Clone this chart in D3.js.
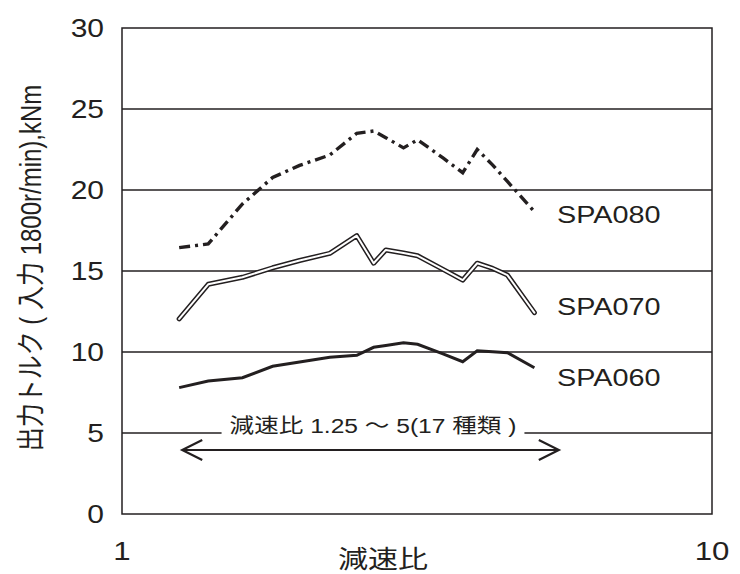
<!DOCTYPE html>
<meta charset="utf-8">
<script src="https://d3js.org/d3.v7.min.js"></script>
<style>
  body { margin: 0; background: #fff; }
  text { font-family: "Liberation Sans", Arial, "Noto Sans CJK JP", sans-serif; fill: #231f20; }
</style>
<div id="page"></div>
<script>

  // Data (reduction ratio -> output torque, kNm)
  var ratios = [1.25, 1.4, 1.6, 1.8, 2.0, 2.25, 2.5, 2.67, 2.8, 3.0, 3.17, 3.5, 3.78, 4.0, 4.25, 4.5, 5.0];
  var spa060 = [7.80, 8.21, 8.41, 9.12, 9.38, 9.67, 9.80, 10.29, 10.40, 10.57, 10.48, 9.89, 9.40, 10.08, 10.02, 9.96, 9.03];
  var spa070 = [12.04, 14.18, 14.61, 15.20, 15.65, 16.09, 17.18, 15.48, 16.30, 16.11, 15.94, 15.10, 14.44, 15.48, 15.16, 14.75, 12.43];
  var spa080 = [16.44, 16.67, 19.14, 20.77, 21.52, 22.16, 23.50, 23.64, 23.23, 22.60, 23.10, 21.98, 21.07, 22.50, 21.54, 20.53, 18.66];
  var seriesNames = ["SPA060", "SPA070", "SPA080"];
  var yTicks = [0, 5, 10, 15, 20, 25, 30];
  var xTicks = [1, 10];
  var rangeLabel = "減速比 1.25 ～ 5(17 種類 )";
  var rangeArrow = [1.265, 5.5];

  var margin = { top: 28, right: 28, bottom: 60, left: 122 },
    width = 740 - margin.left - margin.right,
    height = 574 - margin.top - margin.bottom;

  // the original art is drawn with slightly wide lettering
  var sx = 1.2;

  var svg = d3.select("#page")
    .append("svg")
    .attr("width", 740)
    .attr("height", 574)
    .append("g")
    .attr("transform", "translate(" + margin.left + "," + margin.top + ")");

  var x = d3.scaleLog().domain([1, 10]).range([0, width]);
  var y = d3.scaleLinear().domain([0, 30]).range([height, 0]);

  function place(px, py) {
    return "translate(" + px + "," + py + ")scale(" + sx + ",1)";
  }

  // horizontal grid lines
  svg.selectAll(".grid")
    .data(yTicks.slice(1, -1))
    .enter()
    .append("line")
    .attr("x1", 0)
    .attr("x2", width)
    .attr("y1", function (d) { return y(d); })
    .attr("y2", function (d) { return y(d); })
    .attr("stroke", "#231f20")
    .attr("stroke-width", 1.3);

  // frame
  svg.append("rect")
    .attr("width", width)
    .attr("height", height)
    .attr("fill", "none")
    .attr("stroke", "#231f20")
    .attr("stroke-width", 1.5);

  // y tick labels
  svg.selectAll(".ytick")
    .data(yTicks)
    .enter()
    .append("text")
    .attr("transform", function (d) { return place(-18, y(d)); })
    .attr("dy", "0.36em")
    .attr("text-anchor", "end")
    .attr("font-size", "25px")
    .text(function (d) { return d; });

  // x tick labels
  svg.selectAll(".xtick")
    .data(xTicks)
    .enter()
    .append("text")
    .attr("transform", function (d) { return place(x(d), height + 46); })
    .attr("text-anchor", "middle")
    .attr("font-size", "26px")
    .text(function (d) { return d; });

  // axis titles
  svg.append("text")
    .attr("transform", place(261, height + 54))
    .attr("text-anchor", "middle")
    .attr("font-size", "25px")
    .text("減速比");

  svg.append("text")
    .attr("transform", "translate(-81," + (height / 2 - 3) + ")rotate(-90)scale(1," + sx + ")")
    .attr("text-anchor", "middle")
    .attr("font-size", "24px")
    .text("出力トルク ( 入力 1800r/min),kNm");

  // range annotation
  var labelCenter = 251, labelY = y(5);
  var label = svg.append("text")
    .attr("transform", place(labelCenter, labelY))
    .attr("text-anchor", "middle")
    .attr("font-size", "20.5px")
    .text(rangeLabel);
  var bw = label.node().getBBox().width * sx;
  svg.insert("rect", "text")
    .attr("x", labelCenter - bw / 2 - 8)
    .attr("y", labelY - 3)
    .attr("width", bw + 16)
    .attr("height", 6)
    .attr("fill", "#fff");

  var ay = labelY + 17;
  svg.append("line")
    .attr("x1", x(rangeArrow[0]))
    .attr("x2", x(rangeArrow[1]))
    .attr("y1", ay)
    .attr("y2", ay)
    .attr("stroke", "#231f20")
    .attr("stroke-width", 2.2);
  svg.append("path")
    .attr("d", "M" + (x(rangeArrow[0]) + 20) + "," + (ay - 10) + "L" + x(rangeArrow[0]) + "," + ay + "L" + (x(rangeArrow[0]) + 20) + "," + (ay + 10))
    .attr("fill", "none")
    .attr("stroke", "#231f20")
    .attr("stroke-width", 2.2);
  svg.append("path")
    .attr("d", "M" + (x(rangeArrow[1]) - 20) + "," + (ay - 10) + "L" + x(rangeArrow[1]) + "," + ay + "L" + (x(rangeArrow[1]) - 20) + "," + (ay + 10))
    .attr("fill", "none")
    .attr("stroke", "#231f20")
    .attr("stroke-width", 2.2);

  var line = d3.line()
    .x(function (d, i) { return x(ratios[i]); })
    .y(function (d) { return y(d); });

  // SPA080: dash-dot
  svg.append("path")
    .attr("d", line(spa080))
    .attr("fill", "none")
    .attr("stroke", "#231f20")
    .attr("stroke-width", 3.4)
    .attr("stroke-dasharray", "11,5,3,5");

  // SPA070: double line
  svg.append("path")
    .attr("d", line(spa070))
    .attr("fill", "none")
    .attr("stroke", "#231f20")
    .attr("stroke-width", 5)
    .attr("stroke-linejoin", "round")
    .attr("stroke-linecap", "round");
  svg.append("path")
    .attr("d", line(spa070))
    .attr("fill", "none")
    .attr("stroke", "#fff")
    .attr("stroke-width", 2)
    .attr("stroke-linejoin", "round")
    .attr("stroke-linecap", "round");

  // SPA060: solid
  svg.append("path")
    .attr("d", line(spa060))
    .attr("fill", "none")
    .attr("stroke", "#231f20")
    .attr("stroke-width", 3);

  // series labels
  var labelPos = [8.46, 12.8, 18.5];
  svg.selectAll(".slabel")
    .data(seriesNames)
    .enter()
    .append("text")
    .attr("transform", function (d, i) { return place(435, y(labelPos[i])); })
    .attr("dy", "0.36em")
    .attr("font-size", "24px")
    .text(function (d) { return d; });

</script>
